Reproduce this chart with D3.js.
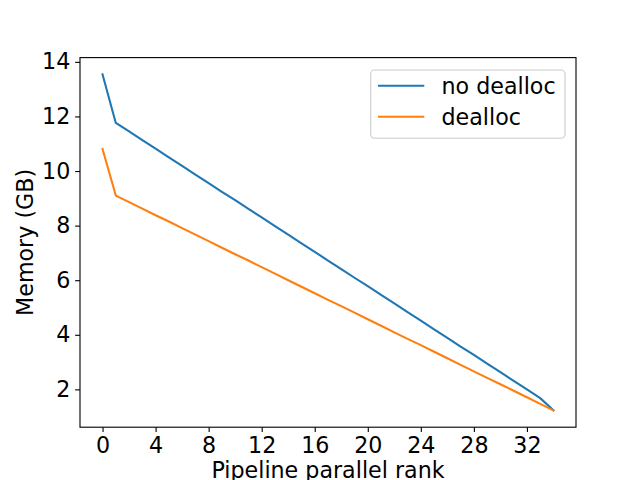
<!DOCTYPE html>
<html>
<head>
<meta charset="utf-8">
<script src="https://cdn.jsdelivr.net/npm/d3@7"></script>
<style>
  html, body { margin: 0; padding: 0; background: #fff; }
  svg { display: block; }
  text { font-family: "DejaVu Sans", sans-serif; fill: #000; }
</style>
</head>
<body>
<svg id="chart" width="640" height="480"></svg>
<script>
// ---- data ----
const ranks = [0,1,2,3,4,5,6,7,8,9,10,11,12,13,14,15,16,17,18,19,20,21,22,23,24,25,26,27,28,29,30,31,32,33,34];
const noDealloc = [13.54,11.76,11.45,11.13,10.82,10.50,10.19,9.87,9.56,9.24,8.93,8.61,8.30,7.98,7.67,7.35,7.04,6.72,6.41,6.09,5.78,5.46,5.15,4.83,4.52,4.20,3.89,3.57,3.26,2.94,2.63,2.31,2.00,1.68,1.23];
const dealloc = [10.81,9.10,8.86,8.62,8.38,8.15,7.91,7.67,7.43,7.19,6.95,6.72,6.48,6.24,6.00,5.76,5.52,5.28,5.05,4.81,4.57,4.33,4.09,3.85,3.62,3.38,3.14,2.90,2.66,2.42,2.19,1.95,1.71,1.47,1.23];
const seriesNames = ["no dealloc", "dealloc"];
const xTicks = [0,4,8,12,16,20,24,28,32];
const yTicks = [2,4,6,8,10,12,14];
const xLabel = "Pipeline parallel rank";
const yLabel = "Memory (GB)";

// ---- layout ----
const W = 640, H = 480;
const L = 80, R = 576, T = 57.6, B = 427.2;
const fs = 22.2;
const colors = ["#1f77b4", "#ff7f0e"];

const svg = d3.select("#chart");

const allY = noDealloc.concat(dealloc);
const xMin = d3.min(ranks), xMax = d3.max(ranks);
const yMin = d3.min(allY), yMax = d3.max(allY);
const xPad = (xMax - xMin) * 0.05, yPad = (yMax - yMin) * 0.05;

const x = d3.scaleLinear().domain([xMin - xPad, xMax + xPad]).range([L, R]);
const y = d3.scaleLinear().domain([yMin - yPad, yMax + yPad]).range([B, T]);

// lines
const series = [noDealloc, dealloc];
const line = d3.line().x((d, i) => x(ranks[i])).y(d => y(d));
series.forEach((s, k) => {
  svg.append("path")
    .datum(s)
    .attr("d", line)
    .attr("fill", "none")
    .attr("stroke", colors[k])
    .attr("stroke-width", 2.08)
    .attr("stroke-linejoin", "round")
    .attr("stroke-linecap", "square");
});

// axes
const tickLen = 4.86, tickPad = 4.86;
const xAxis = svg.append("g")
  .attr("transform", `translate(0,${B})`)
  .call(d3.axisBottom(x).tickValues(xTicks).tickFormat(d3.format("d"))
        .tickSize(tickLen).tickPadding(tickPad).tickSizeOuter(0));
const yAxis = svg.append("g")
  .attr("transform", `translate(${L},0)`)
  .call(d3.axisLeft(y).tickValues(yTicks).tickFormat(d3.format("d"))
        .tickSize(tickLen).tickPadding(tickPad).tickSizeOuter(0));
[xAxis, yAxis].forEach(g => {
  g.select(".domain").remove();
  g.selectAll(".tick line").attr("stroke", "#000").attr("stroke-width", 1.11);
  g.selectAll(".tick text").attr("font-size", fs).attr("font-family", "DejaVu Sans").attr("fill", "#000");
});

// frame (spines)
svg.append("rect")
  .attr("x", L).attr("y", T)
  .attr("width", R - L).attr("height", B - T)
  .attr("fill", "none").attr("stroke", "#000").attr("stroke-width", 1.11);

// axis labels
svg.append("text")
  .attr("x", (L + R) / 2).attr("y", 478)
  .attr("text-anchor", "middle")
  .attr("font-size", fs)
  .text(xLabel);
svg.append("text")
  .attr("transform", `translate(32.5,${(T + B) / 2}) rotate(-90)`)
  .attr("text-anchor", "middle")
  .attr("font-size", fs)
  .text(yLabel);

// legend
const leg = svg.append("g");
leg.append("rect")
  .attr("x", 370.7).attr("y", 70)
  .attr("width", 565 - 370.7).attr("height", 138.3 - 70)
  .attr("rx", 4).attr("ry", 4)
  .attr("fill", "#fff").attr("fill-opacity", 0.8)
  .attr("stroke", "#cccccc").attr("stroke-width", 1.11);
const rowY = [85.7, 116.7];
seriesNames.forEach((name, k) => {
  leg.append("line")
    .attr("x1", 378).attr("x2", 424.3)
    .attr("y1", rowY[k]).attr("y2", rowY[k])
    .attr("stroke", colors[k]).attr("stroke-width", 2.08);
  leg.append("text")
    .attr("x", 441.5).attr("y", rowY[k] + 8.6)
    .attr("font-size", fs)
    .text(name);
});
</script>
</body>
</html>
